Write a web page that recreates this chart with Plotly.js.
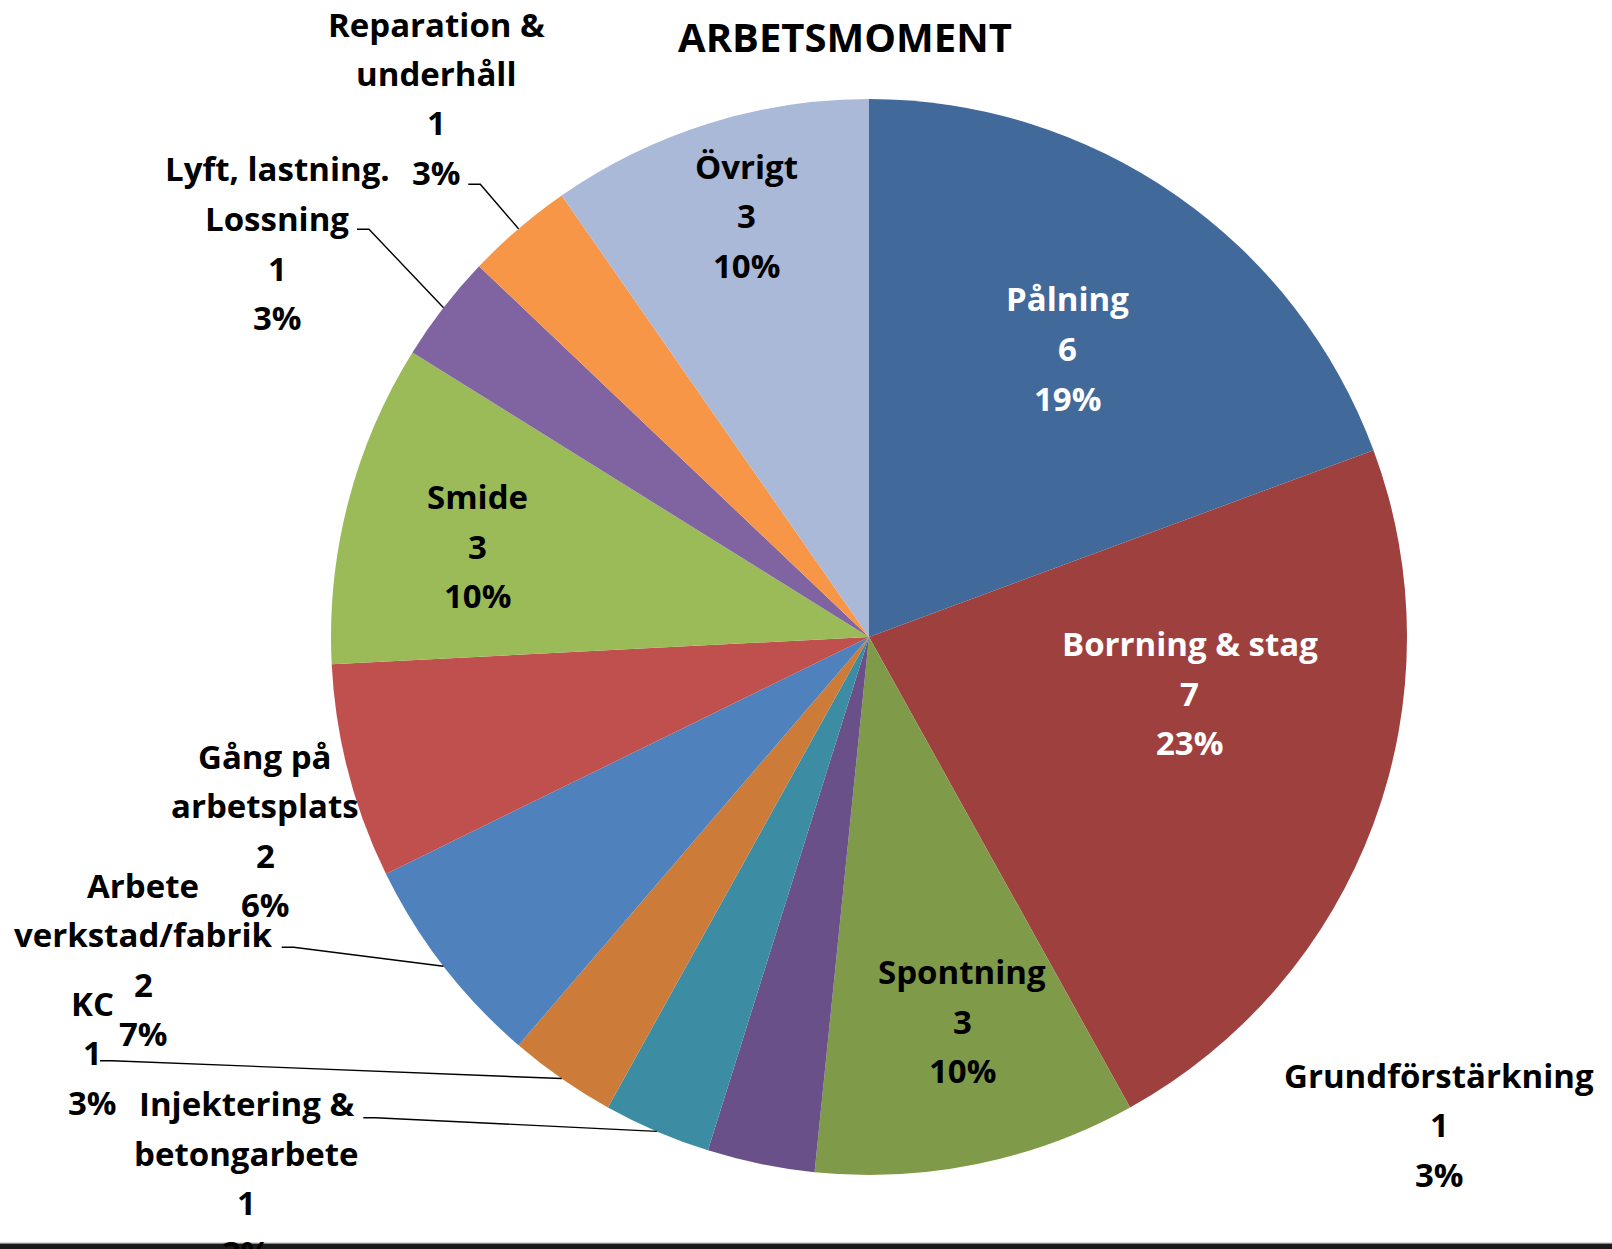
<!DOCTYPE html>
<html>
<head>
<meta charset="utf-8">
<script src="https://cdn.plot.ly/plotly-3.0.1.min.js"></script>
<style>
  html, body { margin: 0; padding: 0; background: #ffffff; }
  #chart { width: 1612px; height: 1249px; }
</style>
</head>
<body>
<div id="chart"></div>
<script>
// ---------- DATA ----------
const chartTitle = 'ARBETSMOMENT';
const categories = [
  'Pålning',
  'Borrning & stag',
  'Spontning',
  'Grundförstärkning',
  'Injektering &\nbetongarbete',
  'KC',
  'Arbete\nverkstad/fabrik',
  'Gång på\narbetsplats',
  'Smide',
  'Lyft, lastning.\nLossning',
  'Reparation &\nunderhåll',
  'Övrigt'
];
const counts = [6, 7, 3, 1, 1, 1, 2, 2, 3, 1, 1, 3];
const percentLabels = ['19%', '23%', '10%', '3%', '3%', '3%', '7%', '6%', '10%', '3%', '3%', '10%'];

// ---------- STYLE / LAYOUT ----------
const sliceColors = ['#416A9B', '#9E413E', '#7F9A48', '#6A5088', '#3C8DA3', '#CC7B38',
                     '#4F81BD', '#C0504D', '#9BBB59', '#8064A2', '#F79646', '#AAB9D7'];
const W = 1612, H = 1249;
const CX = 869, CY = 637, R = 538;      // pie placement in pixels
const LINE_GAP = 49.5;                   // label line spacing in pixels
const FONT = 'Open Sans, Lato, DejaVu Sans, sans-serif';
// label block placement: centre x, first line centre y (px), text colour, leader start (px) or null
const labelPlacement = [
  { x: 1067,  y: 299,   color: '#ffffff', leader: null },
  { x: 1189.5,y: 643.6, color: '#ffffff', leader: null },
  { x: 962,   y: 971.5, color: '#000000', leader: null },
  { x: 1439,  y: 1075,  color: '#000000', leader: null },
  { x: 246,   y: 1103.5,color: '#000000', leader: [363.3, 1117.7] },
  { x: 92.5,  y: 1003,  color: '#000000', leader: [100, 1060.7] },
  { x: 143,   y: 885,   color: '#000000', leader: [281.7, 947.3] },
  { x: 265,   y: 756,   color: '#000000', leader: null },
  { x: 477,   y: 496.5, color: '#000000', leader: null },
  { x: 277,   y: 169,   color: '#000000', leader: [357, 229.3] },
  { x: 436,   y: 24,    color: '#000000', leader: [468.3, 184.3] },
  { x: 746,   y: 166,   color: '#000000', leader: null }
];

const px2x = px => px / W;
const px2y = py => 1 - py / H;

const trace = {
  type: 'pie',
  values: counts,
  labels: categories.map(c => c.replace('\n', ' ')),
  sort: false,
  direction: 'clockwise',
  rotation: 0,
  textinfo: 'none',
  hoverinfo: 'label+value+percent',
  marker: { colors: sliceColors, line: { width: 0 } },
  domain: { x: [(CX - R) / W, (CX + R) / W], y: [(H - CY - R) / H, (H - CY + R) / H] },
  showlegend: false
};

// ---------- labels ----------
const annotations = [];
const shapes = [];
const total = counts.reduce((a, b) => a + b, 0);
let cum = 0;
categories.forEach((cat, i) => {
  const lines = cat.split('\n').concat([String(counts[i]), percentLabels[i]]);
  const p = labelPlacement[i];
  lines.forEach((t, k) => {
    annotations.push({
      xref: 'paper', yref: 'paper',
      x: px2x(p.x), y: px2y(p.y + k * LINE_GAP),
      xanchor: 'center', yanchor: 'middle',
      text: t, showarrow: false,
      font: { family: FONT, size: 33, color: p.color, weight: 700 }
    });
  });
  // leader line to slice edge at mid angle (computed from data)
  const midAngle = (cum + counts[i] / 2) / total * 2 * Math.PI;
  cum += counts[i];
  if (p.leader) {
    const ex = CX + R * Math.sin(midAngle);
    const ey = CY - R * Math.cos(midAngle);
    const [sx, sy] = p.leader;
    const hx = sx + 12;
    shapes.push({
      type: 'path', xref: 'paper', yref: 'paper',
      path: `M ${px2x(sx)} ${px2y(sy)} L ${px2x(hx)} ${px2y(sy)} L ${px2x(ex)} ${px2y(ey)}`,
      line: { color: '#000000', width: 1.4 }
    });
  }
});

// bottom frame bar
shapes.push({
  type: 'rect', xref: 'paper', yref: 'paper',
  x0: 0, x1: 1, y0: 0, y1: px2y(1243.5),
  fillcolor: '#1a1a1a', line: { width: 0 }, layer: 'above'
});
shapes.push({
  type: 'line', xref: 'paper', yref: 'paper',
  x0: 0, x1: 1, y0: px2y(1243.2), y1: px2y(1243.2),
  line: { color: '#8a8a8a', width: 1 }, layer: 'above'
});

const layout = {
  width: W, height: H,
  margin: { l: 0, r: 0, t: 0, b: 0 },
  paper_bgcolor: '#ffffff',
  plot_bgcolor: '#ffffff',
  title: {
    text: chartTitle,
    font: { family: FONT, size: 40, color: '#000000', weight: 700 },
    x: 845 / W, xref: 'container', xanchor: 'center',
    y: 1 - 38 / H, yref: 'container', yanchor: 'middle'
  },
  annotations: annotations,
  shapes: shapes,
  showlegend: false
};

Plotly.newPlot('chart', [trace], layout, { staticPlot: true, displayModeBar: false });
</script>
</body>
</html>
